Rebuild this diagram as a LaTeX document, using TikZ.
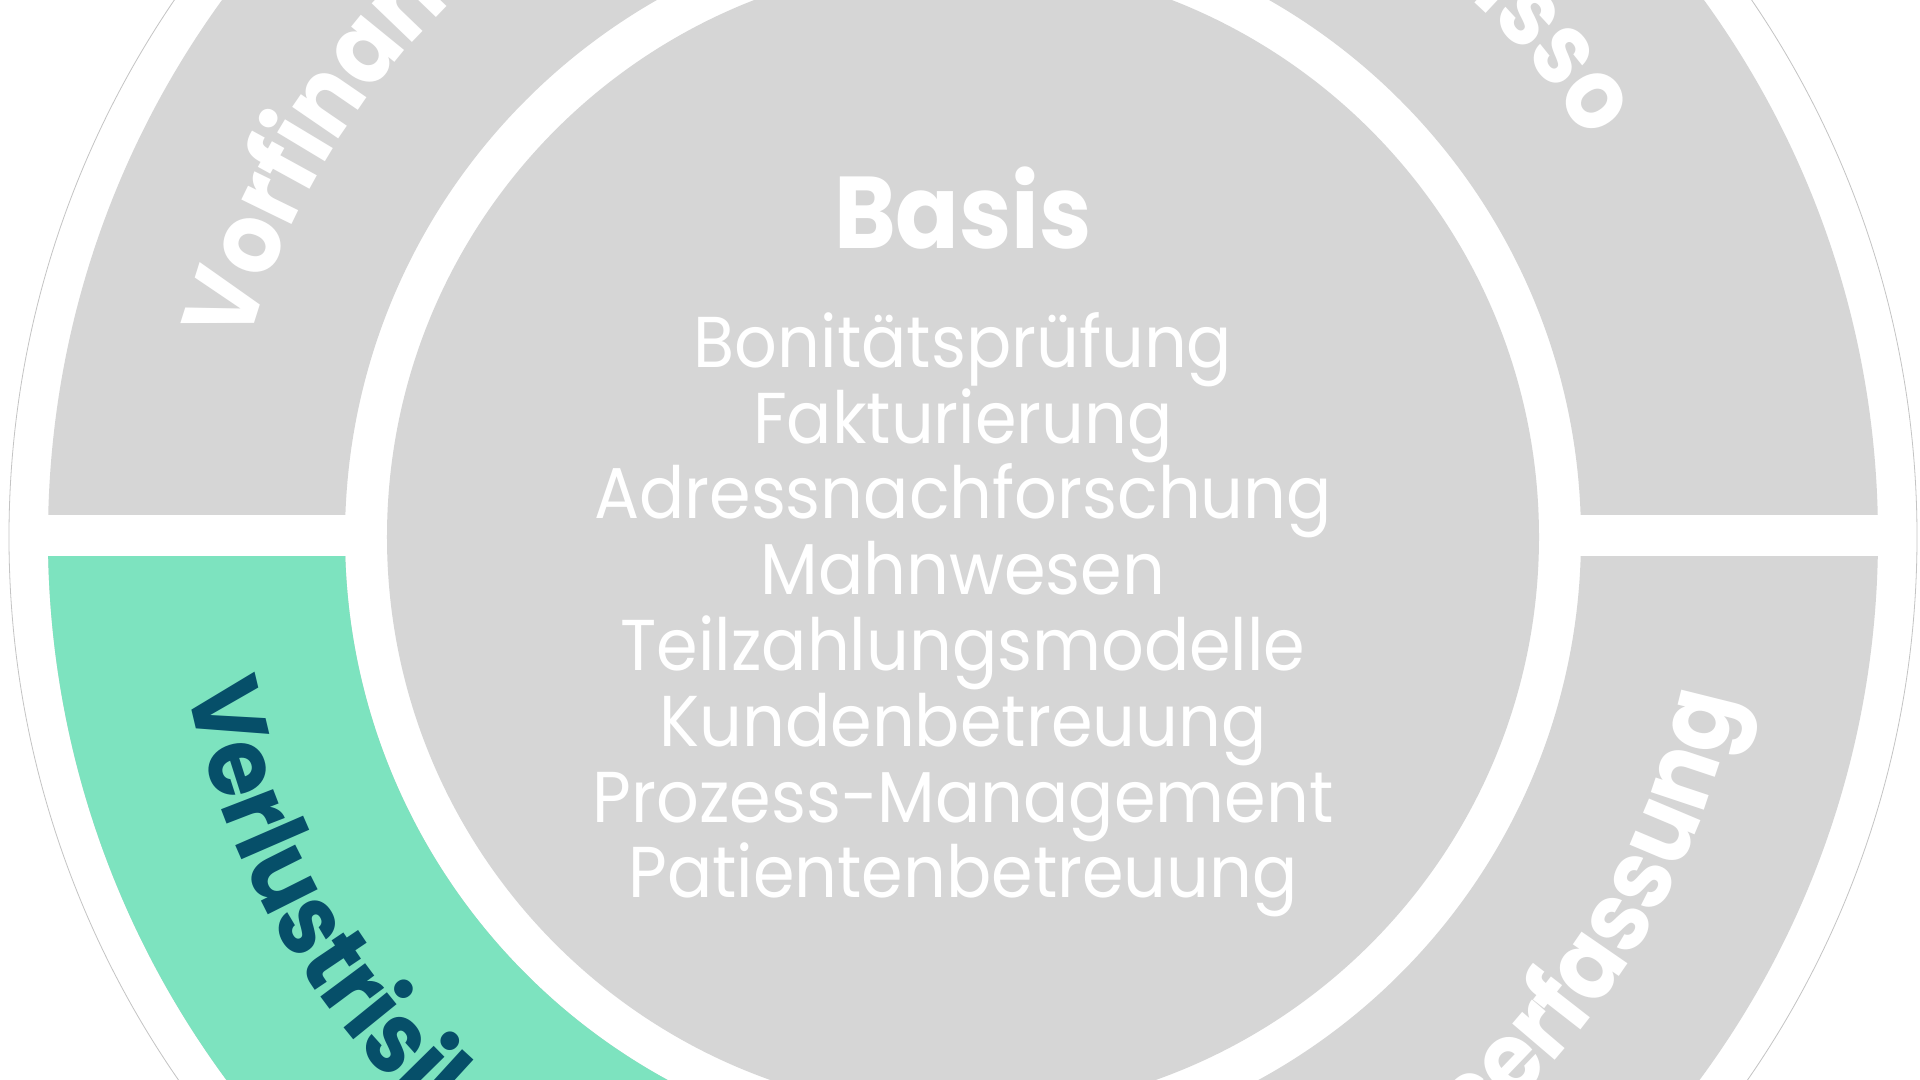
\documentclass[tikz,border=0pt]{standalone}
\usepackage{fontspec}
\setmainfont{Poppins}
\newfontfamily\listface{Poppins}[FakeStretch=0.93]
\newfontfamily\boldface{Poppins Bold}[FakeStretch=0.92]
\newfontfamily\ringface{Poppins Bold}[FakeStretch=0.9]
\usetikzlibrary{decorations.text}
\definecolor{segGray}{HTML}{D6D6D6}
\definecolor{segGreen}{HTML}{7DE3BF}
\definecolor{darkTeal}{HTML}{064F69}
\definecolor{rimGray}{HTML}{C4C4C4}
\newcommand\ringfont{\ringface\fontsize{50}{50}\selectfont}
\begin{document}
\begin{tikzpicture}[x=0.5pt,y=0.5pt,
  listtext/.style={font=\listface\fontsize{36}{36}\selectfont, text=white, anchor=base, inner sep=0pt},
  titletext/.style={font=\boldface\fontsize{51}{51}\selectfont, text=white, anchor=base, inner sep=0pt}]
\useasboundingbox (-963,-543) rectangle (957,537);
\clip (-963,-543) rectangle (957,537);
\fill[white] (-963,-543) rectangle (957,537);
\draw[rimGray, line width=0.4pt] (0,0) circle (954);
% outer ring
\fill[segGray, even odd rule] (0,0) circle (915) (0,0) circle (618);
\fill[segGreen] (180:618) -- (180:915) arc[start angle=180,end angle=270,radius=915] -- (270:618) arc[start angle=270,end angle=180,radius=618] -- cycle;
\fill[white] (-940,-19) rectangle (940,22);
\fill[white] (-20.5,-940) rectangle (20.5,940);
% inner disc
\fill[segGray] (0,0) circle (576);
% ring labels
\path[decorate, decoration={text along path, text align=left, text color=white,
  text={|\ringfont|Vorfinanzierung}}] (165:740) arc[start angle=165,end angle=92,radius=740];
\path[decorate, decoration={text along path, text align=right, text color=white,
  text={|\ringfont|Inkasso}}] (88:740) arc[start angle=88,end angle=32.4,radius=740];
\path[decorate, decoration={text along path, text align=left, text color=darkTeal,
  text={|\ringfont|Verlustrisikoübernahme}}] (191:790) arc[start angle=191,end angle=310,radius=790];
\path[decorate, decoration={text along path, text align=right, text color=white,
  text={|\ringfont|Leistungserfassung}}] (230:790) arc[start angle=230,end angle=348.2,radius=790];
% centre text
\node[titletext] (basis) at (0,288.4) {Basis};
\foreach \t [count=\i from 0] in {Bonitätsprüfung,Fakturierung,Adressnachforschung,Mahnwesen,Teilzahlungsmodelle,Kundenbetreuung,Prozess-Management,Patientenbetreuung}
  \node[listtext] (item\i) at (0,169.7-75.8*\i) {\t};
\end{tikzpicture}
\end{document}
